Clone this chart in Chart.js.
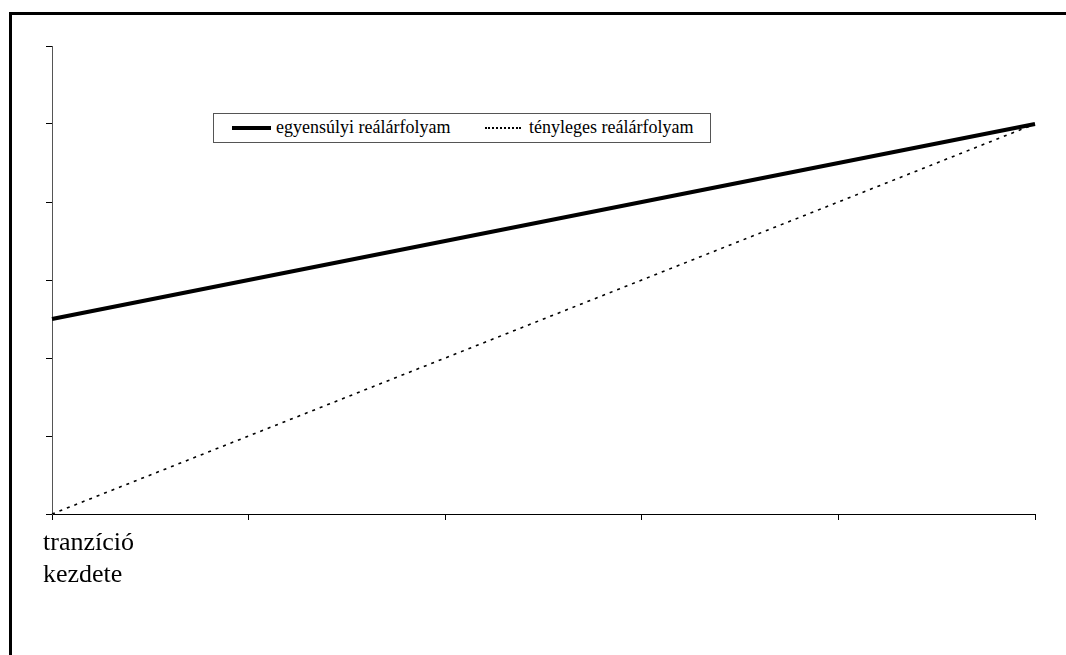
<!DOCTYPE html>
<html>
<head>
<meta charset="utf-8">
<script src="https://cdn.jsdelivr.net/npm/chart.js@4.4.1/dist/chart.umd.min.js"></script>
<style>
  body { margin: 0; background: #fff; overflow: hidden; }
  #wrap { position: relative; width: 1066px; height: 655px; overflow: hidden; }
  #frame { position: absolute; left: 9px; top: 12px; width: 1100px; height: 700px; border: 3px solid #000; }
  #chart { position: absolute; left: 0; top: 0; }
  #legend { position: absolute; left: 213px; top: 113px; width: 496px; height: 28px; border: 1px solid #555; background: #fff;
            font-family: "Liberation Serif", "Times New Roman", serif; font-size: 18px; color: #000; }
  .sample { position: absolute; top: 14px; }
  .lbl { position: absolute; top: 3px; white-space: nowrap; }
</style>
</head>
<body>
<div id="wrap">
  <div id="frame"></div>
  <canvas id="chart" width="1066" height="655"></canvas>
  <div id="legend"></div>
</div>
<script>
// categories along the x axis (only the first one carries a label)
var categories = [['tranzíció', 'kezdete'], '', '', '', '', ''];
// series
var seriesNames = ['egyensúlyi reálárfolyam', 'tényleges reálárfolyam'];
var equilibrium = [2.5, 3, 3.5, 4, 4.5, 5];
var actual = [0, 1, 2, 3, 4, 5];
// y axis: unlabeled ticks 0..6
var yMin = 0, yMax = 6, yStep = 1;

var serif = 'Liberation Serif';

new Chart(document.getElementById('chart'), {
  type: 'line',
  data: {
    labels: categories,
    datasets: [{
      label: seriesNames[0],
      data: equilibrium,
      borderColor: '#000',
      borderWidth: 4,
      pointRadius: 0,
      tension: 0
    }, {
      label: seriesNames[1],
      data: actual,
      borderColor: '#000',
      borderWidth: 1.6,
      borderDash: [3, 5],
      pointRadius: 0,
      tension: 0
    }]
  },
  options: {
    responsive: false,
    devicePixelRatio: 1,
    animation: false,
    layout: { padding: { left: 46, top: 46, right: 31, bottom: 56.6 } },
    plugins: { legend: { display: false }, tooltip: { enabled: false } },
    scales: {
      x: {
        grid: { drawOnChartArea: false, drawTicks: true, tickLength: 6, color: '#000' },
        border: { display: true, color: '#000', width: 1 },
        ticks: {
          autoSkip: false, maxRotation: 0, align: 'start', labelOffset: -9, padding: 8,
          color: '#000', font: { family: serif, size: 26 }
        }
      },
      y: {
        min: yMin, max: yMax,
        grid: { drawOnChartArea: false, drawTicks: true, tickLength: 6, color: '#000' },
        border: { display: true, color: '#555', width: 1 },
        ticks: { stepSize: yStep, display: false }
      }
    }
  }
});

// legend box, as in the original figure
var legend = document.getElementById('legend');
var items = [
  { x: 18, w: 39, style: '4px solid #000', tx: 62 },
  { x: 271, w: 36, style: '2px dotted #000', tx: 315 }
];
items.forEach(function(it, i) {
  var s = document.createElement('span');
  s.className = 'sample';
  s.style.left = it.x + 'px';
  s.style.width = it.w + 'px';
  s.style.borderTop = it.style;
  s.style.marginTop = (i == 0 ? -2 : -1) + 'px';
  legend.appendChild(s);
  var t = document.createElement('span');
  t.className = 'lbl';
  t.style.left = it.tx + 'px';
  t.textContent = seriesNames[i];
  legend.appendChild(t);
});
</script>
</body>
</html>
